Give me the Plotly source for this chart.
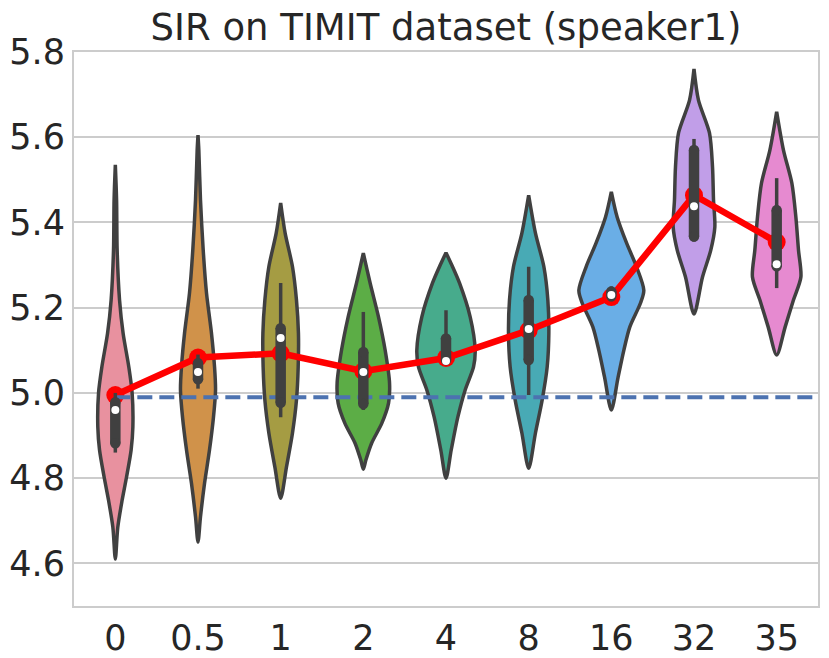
import plotly.graph_objects as go

# ---- data ----
categories = ["0", "0.5", "1", "2", "4", "8", "16", "32", "35"]

violin_colors = ["#e8919f", "#d0924a", "#a59c43", "#5cad46", "#47ab8c",
                 "#48aab5", "#6aaee6", "#c19ee8", "#e68ad0"]

# density profile of each violin: SIR levels and half-widths (category units)
violin_levels = [
    [4.610, 4.685, 4.748, 4.802, 4.866, 4.920, 5.000, 5.061, 5.140, 5.218, 5.335, 5.453, 5.535],
    [4.650, 4.709, 4.788, 4.866, 4.943, 5.007, 5.061, 5.140, 5.234, 5.335, 5.453, 5.570, 5.605],
    [4.753, 4.826, 4.906, 4.983, 5.061, 5.140, 5.218, 5.296, 5.375, 5.446],
    [4.821, 4.842, 4.882, 4.929, 4.976, 5.023, 5.100, 5.178, 5.258, 5.328],
    [4.800, 4.866, 4.943, 5.007, 5.061, 5.100, 5.178, 5.258, 5.300, 5.329],
    [4.823, 4.906, 4.983, 5.061, 5.140, 5.218, 5.296, 5.375, 5.464],
    [4.960, 5.037, 5.100, 5.155, 5.211, 5.241, 5.296, 5.352, 5.413, 5.472],
    [5.185, 5.272, 5.335, 5.389, 5.453, 5.530, 5.610, 5.687, 5.760],
    [5.089, 5.155, 5.218, 5.272, 5.335, 5.413, 5.492, 5.570, 5.660],
]
violin_halfwidths = [
    [0, 0.030, 0.082, 0.135, 0.191, 0.212, 0.203, 0.163, 0.094, 0.051, 0.022, 0.015, 0],
    [0, 0.030, 0.079, 0.139, 0.187, 0.212, 0.200, 0.163, 0.103, 0.063, 0.030, 0.010, 0],
    [0, 0.070, 0.143, 0.191, 0.212, 0.215, 0.191, 0.143, 0.054, 0],
    [0, 0.030, 0.100, 0.224, 0.305, 0.317, 0.264, 0.184, 0.082, 0],
    [0, 0.063, 0.143, 0.232, 0.333, 0.353, 0.293, 0.163, 0.070, 0],
    [0, 0.082, 0.163, 0.224, 0.244, 0.232, 0.184, 0.082, 0],
    [0, 0.082, 0.151, 0.224, 0.353, 0.393, 0.305, 0.184, 0.070, 0],
    [0, 0.103, 0.203, 0.252, 0.236, 0.224, 0.187, 0.054, 0],
    [0, 0.103, 0.203, 0.293, 0.264, 0.232, 0.184, 0.082, 0],
]

box_q1 = [4.870, 5.020, 4.965, 4.962, 5.065, 5.065, 5.215, 5.355, 5.285]
box_q3 = [4.990, 5.082, 5.164, 5.108, 5.140, 5.230, 5.250, 5.582, 5.441]
whisker_lo = [4.860, 5.010, 4.943, 4.960, 5.065, 4.995, 5.215, 5.355, 5.246]
whisker_hi = [5.000, 5.090, 5.258, 5.190, 5.194, 5.296, 5.250, 5.596, 5.504]
median_sir = [4.960, 5.049, 5.129, 5.049, 5.075, 5.150, 5.230, 5.438, 5.302]

mean_sir = [4.995, 5.083, 5.093, 5.051, 5.082, 5.147, 5.225, 5.464, 5.354]
baseline_sir = 4.99

y_ticks = [4.6, 4.8, 5.0, 5.2, 5.4, 5.6, 5.8]
y_tick_text = ["4.6", "4.8", "5.0", "5.2", "5.4", "5.6", "5.8"]

# ---- styles ----
EDGE = "#404040"
TEXT = "#262626"
GRID = "#cccccc"
FONT = "DejaVu Sans"

fig = go.Figure()

# violin bodies
for i, (lv, hw, col) in enumerate(zip(violin_levels, violin_halfwidths, violin_colors)):
    xs = [i + w for w in hw] + [i - w for w in reversed(hw)]
    ys = list(lv) + list(reversed(lv))
    fig.add_trace(go.Scatter(
        x=xs, y=ys, mode="lines", fill="toself", fillcolor=col,
        line=dict(color=EDGE, width=3.5, shape="spline", smoothing=0.8),
        hoverinfo="skip", showlegend=False))

idx = list(range(len(categories)))

# mean line (pointplot)
fig.add_trace(go.Scatter(
    x=idx, y=mean_sir, mode="lines+markers",
    line=dict(color="#ff0000", width=6.5),
    marker=dict(color="#ff0000", size=18, line=dict(width=0)),
    showlegend=False, hoverinfo="skip"))

# baseline dashed
fig.add_trace(go.Scatter(
    x=[0, len(categories) - 0.5], y=[baseline_sir, baseline_sir], mode="lines",
    line=dict(color="#4c72b0", width=4, dash="15px,7px"),
    showlegend=False, hoverinfo="skip"))

# whiskers, boxes, medians
for i in idx:
    fig.add_trace(go.Scatter(
        x=[i, i], y=[whisker_lo[i], whisker_hi[i]], mode="lines",
        line=dict(color=EDGE, width=3.5), showlegend=False, hoverinfo="skip"))
    fig.add_trace(go.Scatter(
        x=[i, i], y=[box_q1[i] + 0.012, box_q3[i] - 0.012], mode="lines+markers",
        line=dict(color=EDGE, width=10.5),
        marker=dict(color=EDGE, size=10.5, line=dict(width=0)),
        showlegend=False, hoverinfo="skip"))

fig.add_trace(go.Scatter(
    x=idx, y=median_sir, mode="markers",
    marker=dict(color="white", size=8, line=dict(width=0)),
    showlegend=False, hoverinfo="skip"))

fig.update_layout(
    width=829, height=658,
    margin=dict(l=74, r=11, t=52, b=52, autoexpand=False),
    paper_bgcolor="white", plot_bgcolor="white",
    font=dict(family=FONT, color=TEXT, size=34),
    title=dict(text="SIR on TIMIT dataset (speaker1)", x=0.5, xref="paper",
               y=1 - 27 / 658, yref="container", yanchor="middle", xanchor="center",
               font=dict(family=FONT, size=37, color=TEXT)),
)
fig.update_xaxes(
    range=[-0.5, len(categories) - 0.5], tickmode="array", tickvals=idx, ticktext=categories,
    showgrid=False, zeroline=False, showline=True, mirror=True, automargin=False,
    linecolor=GRID, linewidth=2, ticks="",
    tickfont=dict(family=FONT, size=35, color=TEXT))
fig.update_yaxes(
    range=[4.5, 5.8], tickmode="array", tickvals=y_ticks, ticktext=y_tick_text,
    showgrid=True, gridcolor=GRID, gridwidth=2, zeroline=False, automargin=False,
    showline=True, mirror=True, linecolor=GRID, linewidth=2, ticks="",
    tickfont=dict(family=FONT, size=35, color=TEXT))

fig.write_html("out.html")
